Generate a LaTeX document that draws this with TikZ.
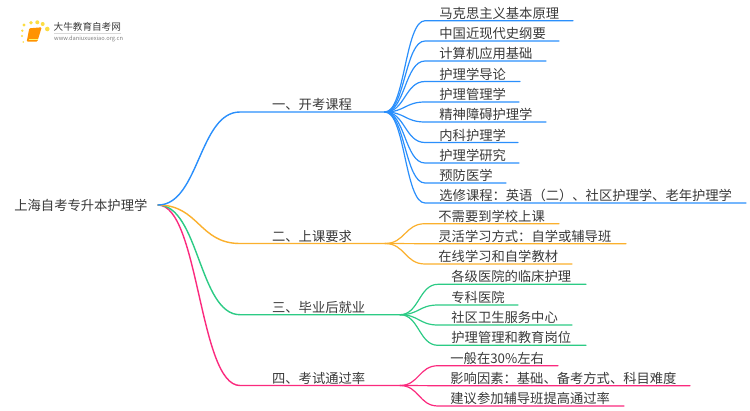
\documentclass[tikz,border=0pt]{standalone}
\usepackage{fontspec}
\setmainfont{Noto Sans CJK SC}
\definecolor{cblue}{HTML}{2A8FFC}
\definecolor{corange}{HTML}{FBB02D}
\definecolor{cgreen}{HTML}{2CCB85}
\definecolor{cpink}{HTML}{FB2A7E}
\definecolor{ctext}{HTML}{3A3A3A}
\tikzset{
  txt/.style={anchor=west,inner sep=0pt,xshift=-0.8pt,yshift=-0.5pt,font=\fontsize{13.3}{13.3}\selectfont,text=ctext},
  branch/.style={line width=1.4pt,line cap=round},
  leaf/.style={line width=1.2pt,line cap=round},
}
\begin{document}
\begin{tikzpicture}[x=1pt,y=-1pt]
\useasboundingbox (0,0) rectangle (750,410);
\fill[white] (0,0) rectangle (750,410);

% logo
\foreach \i/\x/\y/\r in {a/22/36/1.1,b/22.3/30.7/1.3,c/24/25/1.6,d/31/22.7/1.9,e/37.3/22.3/2,f/42.7/24/2,g/47.3/29/2.3,h/23.3/42/0.9}
  \fill[yellow!70!orange,opacity=.75] (\x,\y) circle (\r);
\fill[orange!85!yellow,rounded corners=1pt] (29.3,28.3) -- (41.7,27.3) -- (37.3,41.7) -- (26.7,41.7) -- cycle;
\draw[yellow!60,line width=.6pt] (28.5,39) -- (37.5,39);
\node[inner sep=0pt,anchor=west,font=\fontsize{9.6}{9.6}\selectfont,text=ctext] (logot) at (53.5,27) {大牛教育自考网};
\node[inner sep=0pt,anchor=west,font=\fontsize{5.7}{5.7}\selectfont,text=gray] (logou) at (54,38.5) {www.daniuxuexiao.org.cn};
\draw[gray!30,line width=.5pt] (54,33) -- (121,33);

% root
\node[txt] (root) at (15,205) {上海自考专升本护理学};
\coordinate (r) at (158,205);

% level 1
\coordinate (s1) at (240,112);   \coordinate (j1) at (385,112);
\coordinate (s2) at (240,243.5); \coordinate (j2) at (385,243.5);
\coordinate (s3) at (240,314.7); \coordinate (j3) at (400,314.7);
\coordinate (s4) at (240,385.5); \coordinate (j4) at (400,385.5);
\node[txt] (t1) at (272.7,104) {一、开考课程};
\node[txt] (t2) at (272.7,235.5) {二、上课要求};
\node[txt] (t3) at (272.7,306.7) {三、毕业后就业};
\node[txt] (t4) at (272.7,377.5) {四、考试通过率};
\draw[branch,cpink] (r) .. controls (199,205) and (199,385.5) .. (s4) -- (j4);
\draw[branch,cgreen] (r) .. controls (199,205) and (199,314.7) .. (s3) -- (j3);
\draw[branch,corange] (r) .. controls (199,205) and (199,243.5) .. (s2) -- (j2);
\draw[branch,cblue] (r) .. controls (199,205) and (199,112) .. (s1) -- (j1);

% level 2
\foreach \n/\y/\e/\t in {
  1/20.7/573/马克思主义基本原理,
  2/41/559/中国近现代史纲要,
  3/61/546/计算机应用基础,
  4/81.5/520/护理学导论,
  5/102/519/护理管理学,
  6/122/546/精神障碍护理学,
  7/142.5/518/内科护理学,
  8/163/519/护理学研究,
  9/183/506/预防医学,
  10/203/746/选修课程：英语（二）、社区护理学、老年护理学}{
  \node[txt] (b\n) at (440,\y-8) {\t};
  \coordinate (bs\n) at (425,\y); \coordinate (be\n) at (\e,\y);
  \draw[leaf,cblue] (j1) .. controls (405,112) and (405,\y) .. (bs\n) -- (be\n);
}
\foreach \n/\y/\e/\t in {
  1/223.7/559/不需要到学校上课,
  2/243.7/626/灵活学习方式：自学或辅导班,
  3/264/572/在线学习和自学教材}{
  \node[txt] (o\n) at (439,\y-8) {\t};
  \coordinate (os\n) at (425,\y); \coordinate (oe\n) at (\e,\y);
  \draw[leaf,corange] (j2) .. controls (405,243.5) and (405,\y) .. (os\n) -- (oe\n);
}
\foreach \n/\y/\e/\t in {
  1/284.3/586/各级医院的临床护理,
  2/305/518/专科医院,
  3/325/572/社区卫生服务中心,
  4/345.3/586/护理管理和教育岗位}{
  \node[txt] (g\n) at (452,\y-8) {\t};
  \coordinate (gs\n) at (438,\y); \coordinate (ge\n) at (\e,\y);
  \draw[leaf,cgreen] (j3) .. controls (419,314.7) and (419,\y) .. (gs\n) -- (ge\n);
}
\foreach \n/\y/\e/\t in {
  1/365.7/558/一般在30\%左右,
  2/385.7/690/影响因素：基础、备考方式、科目难度,
  3/406/624/建议参加辅导班提高通过率}{
  \node[txt] (p\n) at (451,\y-8) {\t};
  \coordinate (ps\n) at (438,\y); \coordinate (pe\n) at (\e,\y);
  \draw[leaf,cpink] (j4) .. controls (419,385.5) and (419,\y) .. (ps\n) -- (pe\n);
}
\end{tikzpicture}
\end{document}
